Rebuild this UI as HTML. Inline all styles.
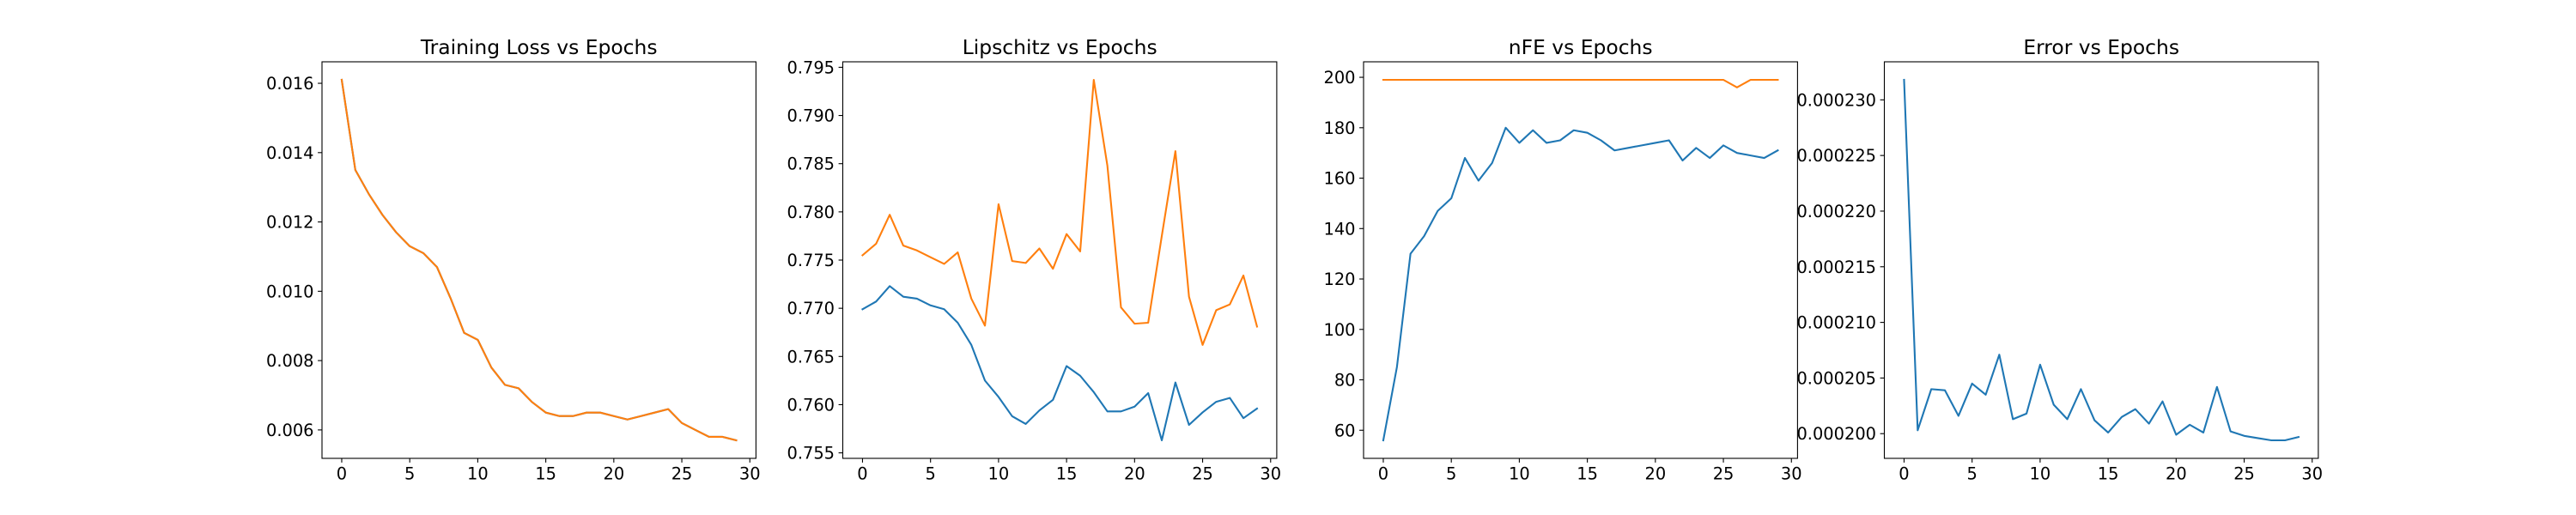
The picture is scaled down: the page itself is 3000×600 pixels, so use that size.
<!DOCTYPE html>
<html><head><meta charset="utf-8"><style>html,body{margin:0;padding:0;background:#fff}svg{display:block}text{font-family:"DejaVu Sans","Liberation Sans",sans-serif}</style></head>
<body>
<svg id="fig" width="3000" height="600" viewBox="0 0 3000 600" xmlns="http://www.w3.org/2000/svg"></svg>
<script>
const epochs = Array.from({length:30},(_,i)=>i);
const xTicks = [0,5,10,15,20,25,30];
const titles = ["Training Loss vs Epochs","Lipschitz vs Epochs","nFE vs Epochs","Error vs Epochs"];
const lossBlue = [0.0161,0.0135,0.0128,0.0122,0.0117,0.0113,0.0111,0.0107,0.0098,0.0088,0.0086,0.0078,0.0073,0.0072,0.0068,0.0065,0.0064,0.0064,0.0065,0.0065,0.0064,0.0063,0.0064,0.0065,0.0066,0.0062,0.0060,0.0058,0.0058,0.0057];
const lossOrange = lossBlue.slice();
const lossTicks = [0.006,0.008,0.010,0.012,0.014,0.016];
const lipBlue = [0.7699,0.7707,0.7723,0.7712,0.7710,0.7703,0.7699,0.7685,0.7662,0.7625,0.7608,0.7588,0.7580,0.7594,0.7605,0.7640,0.7630,0.7613,0.7593,0.7593,0.7598,0.7612,0.7563,0.7623,0.7579,0.7592,0.7603,0.7607,0.7586,0.7596];
const lipOrange = [0.7755,0.7767,0.7797,0.7765,0.7760,0.7753,0.7746,0.7758,0.7710,0.7682,0.7808,0.7749,0.7747,0.7762,0.7741,0.7777,0.7759,0.7937,0.7848,0.7701,0.7684,0.7685,0.7775,0.7863,0.7712,0.7662,0.7698,0.7704,0.7734,0.7681];
const lipTicks = [0.755,0.760,0.765,0.770,0.775,0.780,0.785,0.790,0.795];
const nfeBlue = [56,85,130,137,147,152,168,159,166,180,174,179,174,175,179,178,175,171,172,173,174,175,167,172,168,173,170,169,168,171];
const nfeOrange = [199,199,199,199,199,199,199,199,199,199,199,199,199,199,199,199,199,199,199,199,199,199,199,199,199,199,196,199,199,199];
const nfeTicks = [60,80,100,120,140,160,180,200];
const errBlue = [0.0002318,0.0002003,0.0002040,0.0002039,0.0002016,0.0002045,0.0002035,0.0002071,0.0002013,0.0002018,0.0002062,0.0002026,0.0002013,0.0002040,0.0002012,0.0002001,0.0002015,0.0002022,0.0002009,0.0002029,0.0001999,0.0002008,0.0002001,0.0002042,0.0002002,0.0001998,0.0001996,0.0001994,0.0001994,0.0001997];
const errTicks = [0.000200,0.000205,0.000210,0.000215,0.000220,0.000225,0.000230];

const NS="http://www.w3.org/2000/svg";
const svg=document.getElementById('fig');
function mk(tag,attrs,parent){const e=document.createElementNS(NS,tag);for(const k in attrs)e.setAttribute(k,attrs[k]);parent.appendChild(e);return e;}
const panels=[
 {series:[lossBlue,lossOrange],ticks:lossTicks,dec:3,name:'loss'},
 {series:[lipBlue,lipOrange],ticks:lipTicks,dec:3,name:'lipschitz'},
 {series:[nfeBlue,nfeOrange],ticks:nfeTicks,dec:0,name:'nfe'},
 {series:[errBlue],ticks:errTicks,dec:6,name:'error'}
];
const colors=['#1f77b4','#ff7f0e'];
const W=505.4,axTop=72,axBot=534,gap=101.1;
panels.forEach((p,pi)=>{
 const left=375+pi*(W+gap);
 const g=mk('g',{},svg);
 
 
 let all=[].concat(...p.series);
 let mn=Math.min(...all),mx=Math.max(...all),m=(mx-mn)*0.05;
 const y0=mn-m,y1=mx+m;
 const xmin=-1.45,xmax=30.45;
 const X=v=>left+(v-xmin)/(xmax-xmin)*W;
 const Y=v=>axBot-(v-y0)/(y1-y0)*(axBot-axTop);
 p.series.forEach((s,si)=>{
  const d=s.map((v,i)=>(i?'L':'M')+X(epochs[i]).toFixed(2)+' '+Y(v).toFixed(2)).join(' ');
  const path=mk('path',{d:d,fill:'none',stroke:colors[si],'stroke-width':2.1,'stroke-linejoin':'round','stroke-linecap':'square'},g);
  
  
 });
 const frame=mk('rect',{x:left,y:axTop,width:W,height:axBot-axTop,fill:'none',stroke:'#000','stroke-width':1.1},g);
 
 
 xTicks.forEach(t=>{
  const x=X(t);
  mk('line',{x1:x,x2:x,y1:axBot,y2:axBot+4.9,stroke:'#000','stroke-width':1.1},g);
  const tx=mk('text',{x:x,y:axBot+24.5,'font-size':19.4,'text-anchor':'middle',fill:'#000'},g);
  tx.textContent=t;
  
  
 });
 p.ticks.forEach(t=>{
  const y=Y(t);
  mk('line',{x1:left-4.9,x2:left,y1:y,y2:y,stroke:'#000','stroke-width':1.1},g);
  const tx=mk('text',{x:left-9.5,y:y+7,'font-size':19.4,'text-anchor':'end',fill:'#000'},g);
  tx.textContent=t.toFixed(p.dec);
  
  
 });
 const ti=mk('text',{x:left+W/2,y:axTop-9,'font-size':23.4,'text-anchor':'middle',fill:'#000'},g);
 ti.textContent=titles[pi];
 
 
});
</script>
</body></html>
